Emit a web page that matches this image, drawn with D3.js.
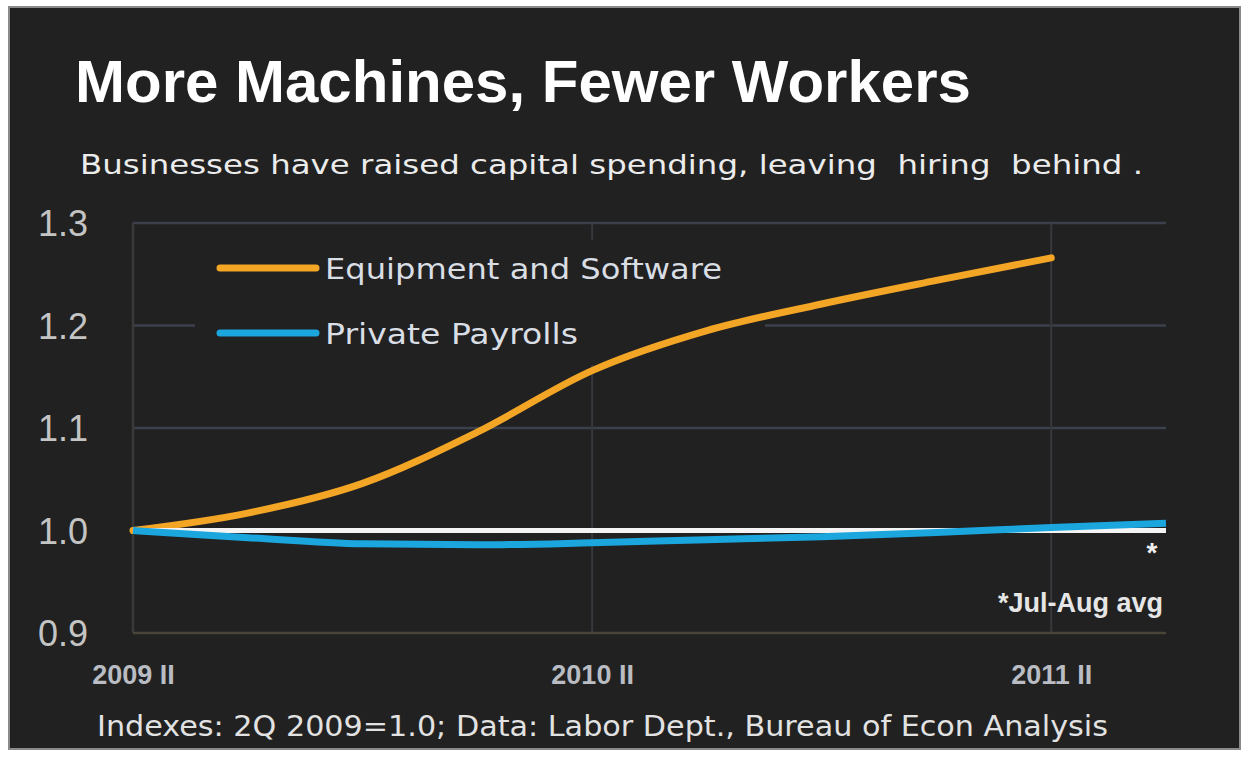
<!DOCTYPE html>
<html>
<head>
<meta charset="utf-8">
<script src="https://cdn.jsdelivr.net/npm/d3@7"></script>
<style>
  html, body { margin: 0; padding: 0; background: #ffffff; }
  svg { display: block; }
</style>
</head>
<body>
<div id="chart"></div>
<script>
const width = 1248, height = 770;

// data
const quarters = ["2009 II", "2009 III", "2009 IV", "2010 I", "2010 II",
                  "2010 III", "2010 IV", "2011 I", "2011 II", "2011 III"];
const equipment = [1.0, 1.017, 1.046, 1.096, 1.156, 1.195, 1.221, 1.244, 1.266];
const payrolls = [1.0, 0.993, 0.987, 0.986, 0.988, 0.991, 0.994, 0.998, 1.003, 1.007];
const reference = [1.0, 1.0, 1.0, 1.0, 1.0, 1.0, 1.0, 1.0, 1.0, 1.0];
const yTicks = [0.9, 1.0, 1.1, 1.2, 1.3];
const xTickLabels = ["2009 II", "2010 II", "2011 II"];
const seriesNames = ["Equipment and Software", "Private Payrolls"];

const margin = { top: 223, right: 82, bottom: 137, left: 133 };
const innerWidth = width - margin.left - margin.right;
const innerHeight = height - margin.top - margin.bottom;
const baseFont = "Liberation Sans, Arial, sans-serif";
const wideFont = "DejaVu Sans, Verdana, sans-serif";

const svg = d3.select("#chart").append("svg")
  .attr("width", width)
  .attr("height", height)
  .attr("viewBox", [0, 0, width, height])
  .attr("font-family", baseFont);

// dark panel
svg.append("rect")
  .attr("x", 9).attr("y", 7)
  .attr("width", 1231).attr("height", 742)
  .attr("fill", "#212121")
  .attr("stroke", "#8a8a8a")
  .attr("stroke-width", 2);

svg.append("text")
  .attr("x", 75).attr("y", 102)
  .attr("font-size", 60)
  .attr("font-weight", "bold")
  .attr("fill", "#ffffff")
  .text("More Machines, Fewer Workers");

svg.append("text")
  .attr("x", 80).attr("y", 174)
  .attr("font-size", 27)
  .attr("font-family", wideFont)
  .attr("fill", "#ececec")
  .attr("xml:space", "preserve")
  .attr("textLength", 1063)
  .attr("lengthAdjust", "spacingAndGlyphs")
  .text("Businesses have raised capital spending, leaving  hiring  behind .");

const xScale = d3.scalePoint()
  .domain(quarters)
  .range([0, innerWidth]);

const yScale = d3.scaleLinear()
  .domain([0.9, 1.3])
  .range([innerHeight, 0]);

const innerChart = svg.append("g")
  .attr("transform", `translate(${margin.left}, ${margin.top})`);

// horizontal grid
innerChart.selectAll(".hgrid")
  .data(yTicks.filter(t => t > 0.95))
  .join("line")
    .attr("class", "hgrid")
    .attr("x1", 0).attr("x2", innerWidth)
    .attr("y1", d => yScale(d)).attr("y2", d => yScale(d))
    .attr("stroke", "#3b404b")
    .attr("stroke-width", 2.5);

// vertical grid
innerChart.selectAll(".vgrid")
  .data(xTickLabels.slice(1))
  .join("line")
    .attr("class", "vgrid")
    .attr("x1", d => xScale(d)).attr("x2", d => xScale(d))
    .attr("y1", 0).attr("y2", innerHeight)
    .attr("stroke", "#36383d")
    .attr("stroke-width", 2);

innerChart.append("line")
  .attr("x1", 0).attr("x2", 0)
  .attr("y1", 0).attr("y2", innerHeight)
  .attr("stroke", "#3a3a3a")
  .attr("stroke-width", 2.5);

innerChart.append("line")
  .attr("x1", 0).attr("x2", innerWidth)
  .attr("y1", innerHeight).attr("y2", innerHeight)
  .attr("stroke", "#4a4538")
  .attr("stroke-width", 2.5);

// legend box hides the grid behind it
innerChart.append("rect")
  .attr("x", 62).attr("y", 17)
  .attr("width", 570).attr("height", 125)
  .attr("fill", "#212121");

// axes
const yAxis = innerChart.append("g")
  .call(d3.axisLeft(yScale).tickValues(yTicks).tickFormat(d3.format(".1f")).tickSize(0).tickPadding(45))
  .attr("font-family", baseFont)
  .attr("font-size", 36);
yAxis.select(".domain").remove();
yAxis.selectAll("text")
  .attr("fill", "#c4c4c4")
  .attr("dy", "0.36em");

const xAxis = innerChart.append("g")
  .attr("transform", `translate(0, ${innerHeight})`)
  .call(d3.axisBottom(xScale).tickValues(xTickLabels).tickSize(0).tickPadding(32))
  .attr("font-family", baseFont)
  .attr("font-size", 27)
  .attr("font-weight", "bold");
xAxis.select(".domain").remove();
xAxis.selectAll("text")
  .attr("fill", "#b9bcc3");

// lines
const lineGenerator = d3.line()
  .x((d, i) => xScale(quarters[i]))
  .y(d => yScale(d))
  .curve(d3.curveMonotoneX);

innerChart.append("path")
  .attr("d", lineGenerator(equipment))
  .attr("fill", "none")
  .attr("stroke", "#f3a526")
  .attr("stroke-width", 7)
  .attr("stroke-linecap", "round");

innerChart.append("path")
  .attr("d", lineGenerator(reference))
  .attr("fill", "none")
  .attr("stroke", "#f4f4f4")
  .attr("stroke-width", 5);

innerChart.append("path")
  .attr("d", lineGenerator(payrolls))
  .attr("fill", "none")
  .attr("stroke", "#1ba6de")
  .attr("stroke-width", 7);

// footnote marks
innerChart.append("text")
  .attr("x", xScale("2011 III") - 14)
  .attr("y", yScale(1.0) + 31)
  .attr("text-anchor", "middle")
  .attr("font-size", 28)
  .attr("font-weight", "bold")
  .attr("fill", "#f0f0f0")
  .text("*");

innerChart.append("text")
  .attr("x", innerWidth - 3)
  .attr("y", yScale(0.9) - 21)
  .attr("text-anchor", "end")
  .attr("font-size", 27)
  .attr("font-weight", "bold")
  .attr("fill", "#e6e6e6")
  .text("*Jul-Aug avg");

// legend
const legendColors = ["#f3a526", "#1ba6de"];
const legend = innerChart.selectAll(".legend-item")
  .data(seriesNames)
  .join("g")
    .attr("class", "legend-item")
    .attr("transform", (d, i) => `translate(87, ${45 + i * 65})`);

legend.append("line")
  .attr("x1", 0).attr("x2", 96)
  .attr("y1", 0).attr("y2", 0)
  .attr("stroke", (d, i) => legendColors[i])
  .attr("stroke-width", 7)
  .attr("stroke-linecap", "round");

legend.append("text")
  .attr("x", 105)
  .attr("y", 11)
  .attr("font-size", 28)
  .attr("font-family", wideFont)
  .attr("fill", "#d9dde4")
  .attr("textLength", (d, i) => [397, 253][i])
  .attr("lengthAdjust", "spacingAndGlyphs")
  .text(d => d);

svg.append("text")
  .attr("x", 97).attr("y", 736)
  .attr("font-size", 28)
  .attr("font-family", wideFont)
  .attr("fill", "#e2e2e2")
  .attr("textLength", 1011)
  .attr("lengthAdjust", "spacingAndGlyphs")
  .text("Indexes: 2Q 2009=1.0; Data: Labor Dept., Bureau of Econ Analysis");
</script>
</body>
</html>
